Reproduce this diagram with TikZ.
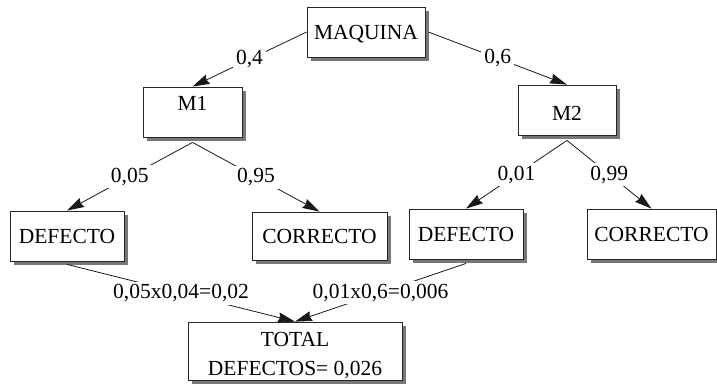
\documentclass[tikz,border=0pt]{standalone}
\usepackage{fontspec}
\setmainfont{Liberation Serif}
\usetikzlibrary{arrows.meta,backgrounds}
\definecolor{shadowgray}{RGB}{120,120,120}
\begin{document}
\begin{tikzpicture}[x=1pt,y=-1pt,
  every node/.style={font=\fontsize{21.5}{29}\selectfont},
  box/.style={rectangle,draw=black!85,line width=0.8pt,fill=white,inner sep=0pt,
    text height=14pt,text depth=0pt,minimum height=50pt},
  boxshadow/.style={fill=shadowgray},
  lbl/.style={fill=white,inner sep=3pt,text height=14pt,text depth=3pt},
  conn/.style={line width=0.8pt,draw=black!90},
  arr/.style={conn,-{Stealth[length=17pt,width=10pt,inset=1.5pt]}}]
\useasboundingbox (0,0) rectangle (717,383);
\node[box,minimum width=118pt] (MAQ) at (366,32) {MAQUINA};
\node[box,minimum width=99pt,text height=10pt,text depth=14pt] (M1) at (192.5,112) {M1};
\node[box,minimum width=98pt,text height=20pt] (M2) at (567,110) {M2};
\node[box,minimum width=114pt] (DEFL) at (67,236) {DEFECTO};
\node[box,minimum width=135pt,minimum height=48pt] (CORL) at (319.5,236) {CORRECTO};
\node[box,minimum width=114pt] (DEFR) at (466,234) {DEFECTO};
\node[box,minimum width=129pt] (CORR) at (651.5,234) {CORRECTO};
\node[box,minimum width=214pt,minimum height=58pt,align=center,text height=48pt] (TOT) at (295,351) {TOTAL\\DEFECTOS= 0,026};

\begin{scope}[on background layer]
\foreach \n in {MAQ,M1,M2,DEFL,CORL,DEFR,CORR,TOT}
  \fill[boxshadow] ([shift={(4pt,-4pt)}]\n.south west) rectangle ([shift={(4pt,-4pt)}]\n.north east);
\end{scope}

\draw[arr] (MAQ.west) -- node[lbl] {0,4} (M1.north);
\draw[arr] ([xshift=3pt]MAQ.east) -- node[lbl] {0,6} (M2.north);
\draw[arr] ([yshift=-5pt]M1.south) -- node[lbl] {0,05} (DEFL.north);
\draw[arr] ([yshift=-5pt]M1.south) -- node[lbl] {0,95} (CORL.north);
\draw[arr] ([yshift=-5pt]M2.south) -- node[lbl] {0,01} (DEFR.north);
\draw[arr] ([yshift=-5pt]M2.south) -- node[lbl] {0,99} (CORR.north);
\draw[arr] ([yshift=-3pt]DEFL.south) -- node[lbl] {0,05x0,04=0,02} (TOT.north);
\draw[arr] ([yshift=-4pt]DEFR.south) -- node[lbl] {0,01x0,6=0,006} (TOT.north);
\end{tikzpicture}
\end{document}
